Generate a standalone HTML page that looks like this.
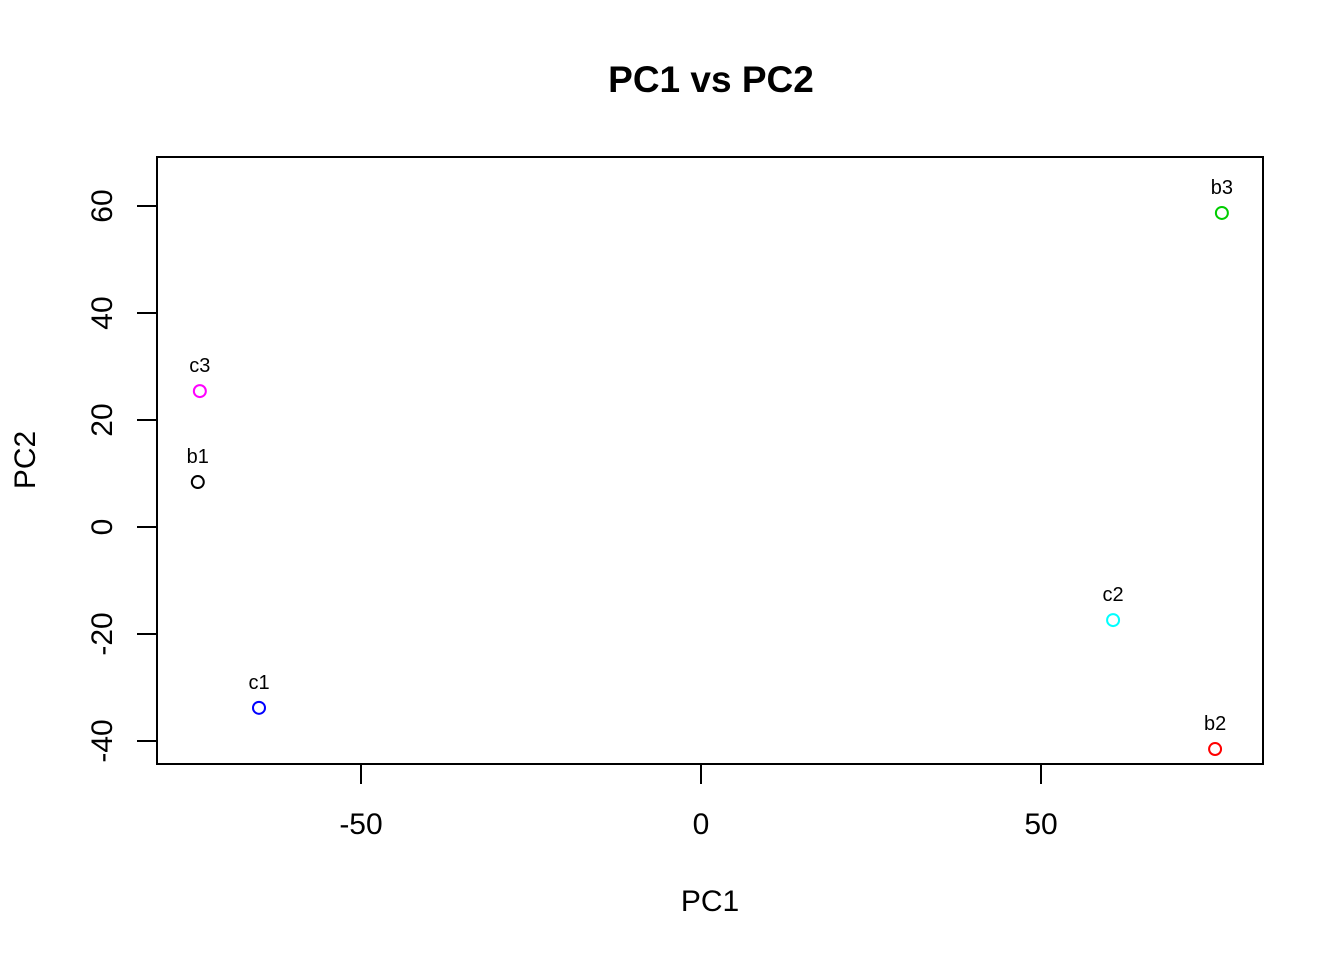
<!DOCTYPE html>
<html><head><meta charset="utf-8"><style>
body{margin:0;background:#fff;}
svg{display:block;font-family:"Liberation Sans",Arial,sans-serif;}
</style></head><body>
<svg id="chart" width="1344" height="960">
<text x="711" y="92" text-anchor="middle" font-size="37" font-weight="bold">PC1 vs PC2</text>
<rect x="157" y="157" width="1106" height="607" fill="none" stroke="#000" stroke-width="2"/>
<g id="xaxis"></g>
<g id="yaxis"></g>
<text x="710" y="911" text-anchor="middle" font-size="30">PC1</text>
<text transform="translate(35,460) rotate(-90)" text-anchor="middle" font-size="30">PC2</text>
<g id="points"></g>
</svg>
<script>
const labels=["b1","b2","b3","c1","c2","c3"];
const pc1=[-74.0,75.6,76.6,-65.0,60.6,-73.7];
const pc2=[8.4,-41.5,58.7,-33.8,-17.4,25.4];
const colors=["#000000","#ff0000","#00cd00","#0000ff","#00ffff","#ff00ff"];
const xTicks=[-50,0,50];
const yTicks=[-40,-20,0,20,40,60];
const NS="http://www.w3.org/2000/svg";
function sx(v){return 701+v*6.8;}
function sy(v){return 527-v*5.35;}
function mk(t,a,p){const e=document.createElementNS(NS,t);for(const k in a)e.setAttribute(k,a[k]);p.appendChild(e);return e;}
const xa=document.getElementById('xaxis'),ya=document.getElementById('yaxis'),pg=document.getElementById('points');
xTicks.forEach(v=>{
 const l=mk('line',{x1:sx(v),x2:sx(v),y1:764,y2:784,stroke:'#000','stroke-width':2},xa);
 
 
 const t=mk('text',{x:sx(v),y:834,'text-anchor':'middle','font-size':30},xa);
 t.textContent=v;
 
 
});
yTicks.forEach(v=>{
 const l=mk('line',{x1:137,x2:157,y1:sy(v),y2:sy(v),stroke:'#000','stroke-width':2},ya);
 
 
 const t=mk('text',{transform:`translate(112,${sy(v)}) rotate(-90)`,'text-anchor':'middle','font-size':30},ya);
 t.textContent=v;
 
 
});
labels.forEach((n,i)=>{
 const c=mk('circle',{cx:sx(pc1[i]),cy:sy(pc2[i]),r:6,fill:'none',stroke:colors[i],'stroke-width':2},pg);
 
 
 const t=mk('text',{x:sx(pc1[i]),y:sy(pc2[i])-19,'text-anchor':'middle','font-size':20},pg);
 t.textContent=n;
 
 
});
</script>
</body></html>
